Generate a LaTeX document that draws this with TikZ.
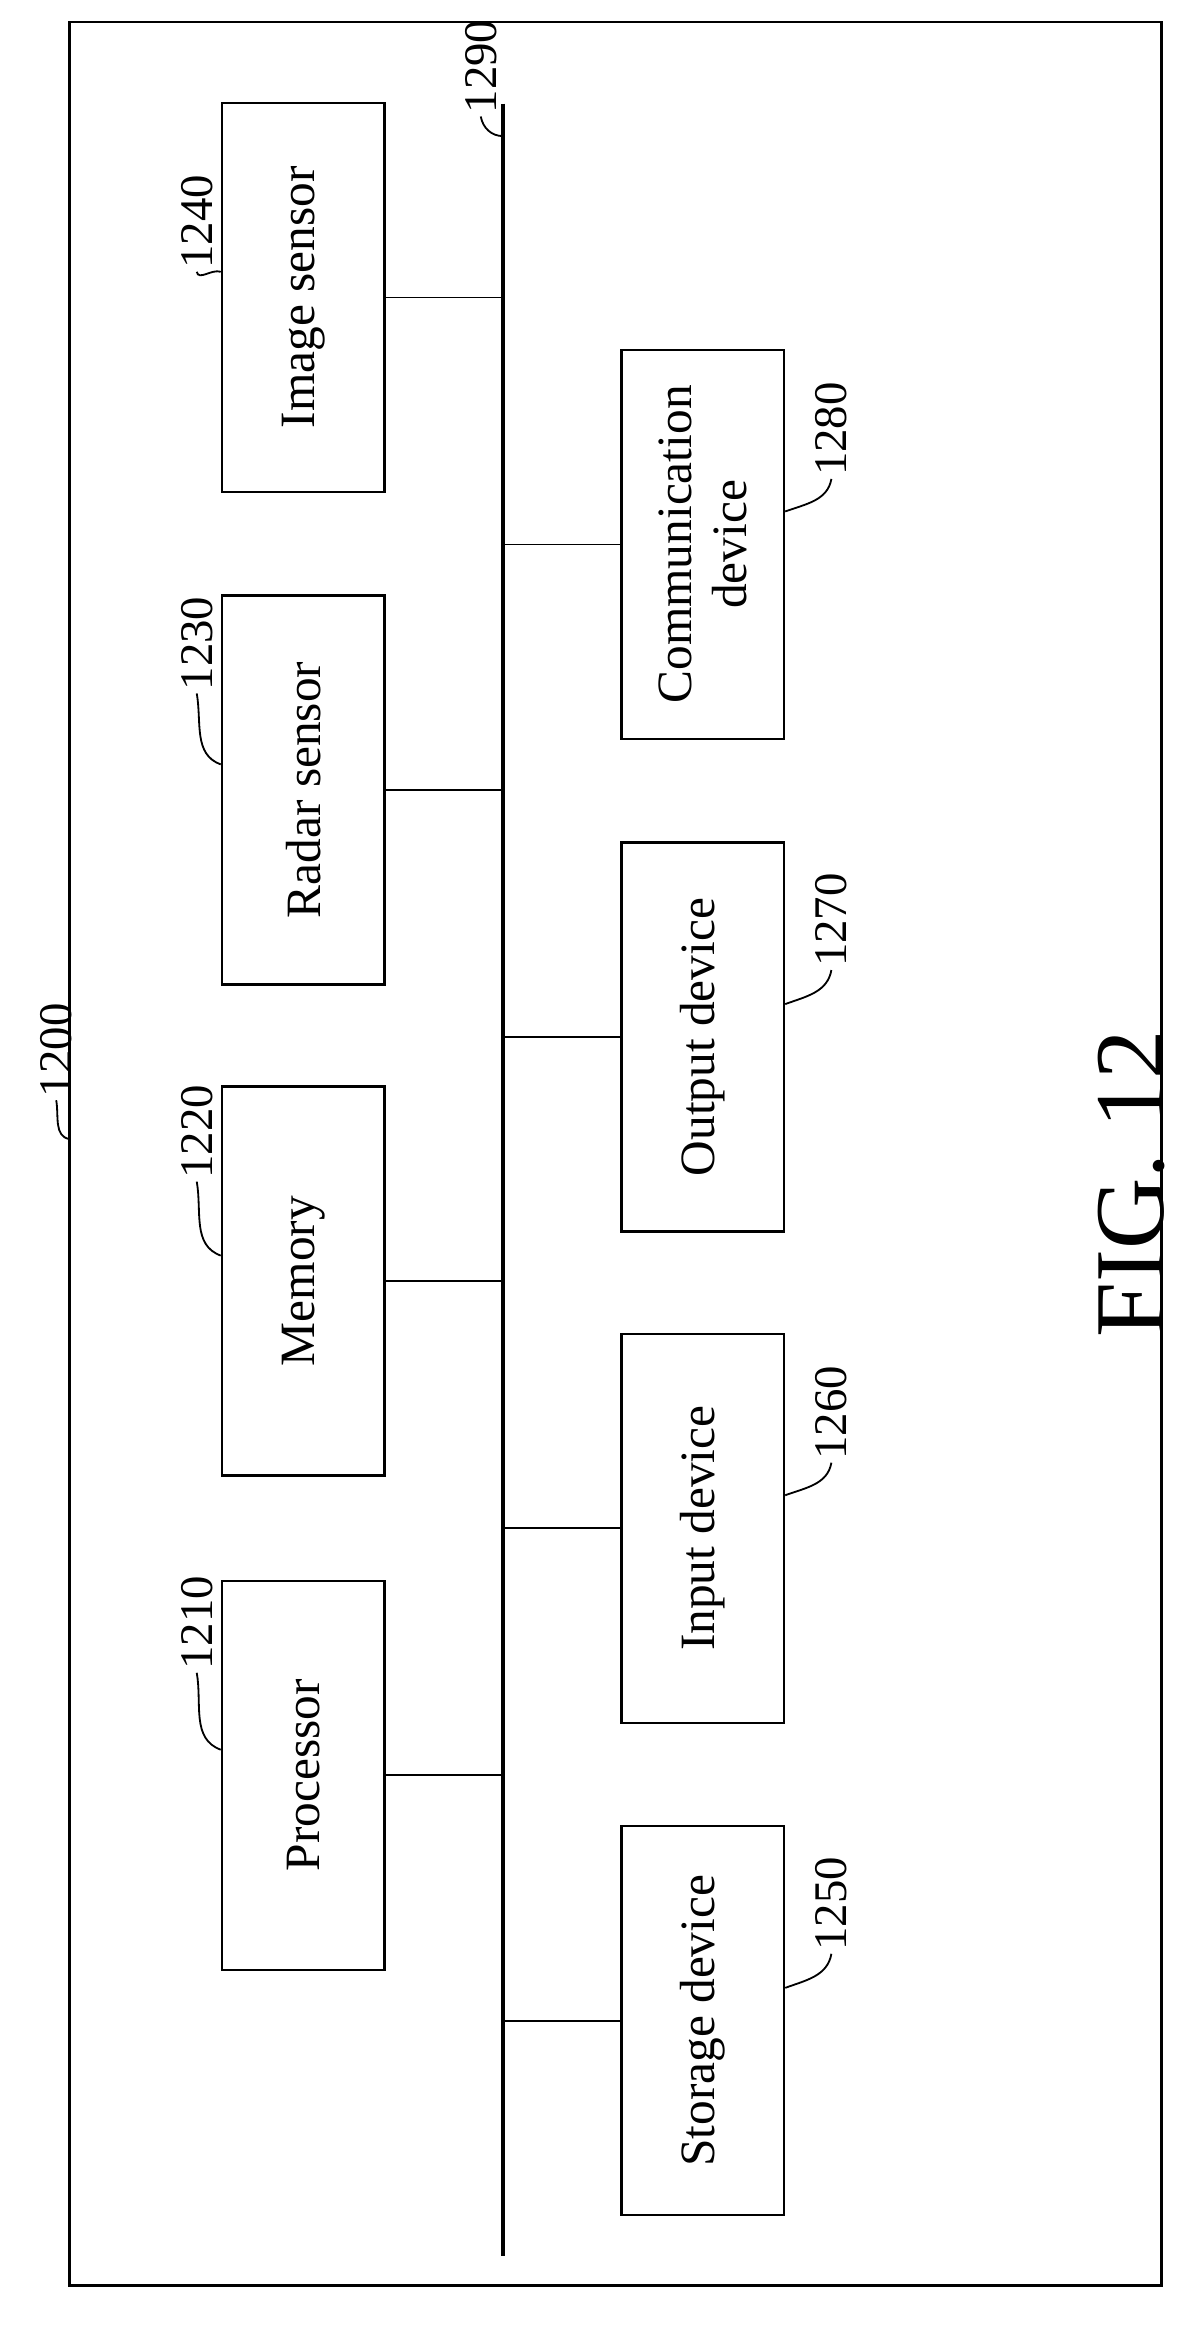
\documentclass[tikz,border=0pt]{standalone}
\usepackage{fontspec}
\setmainfont{Liberation Serif}
\usetikzlibrary{positioning, calc}
\tikzset{
    unit/.style={
        rectangle,
        draw=black,
        line width=0.9pt,
        rotate=90,
        minimum width=5.26cm,
        minimum height=2.2cm,
        align=center,
        font=\fontsize{19}{21}\selectfont
    },
    tag/.style={
        rotate=90,
        inner sep=1pt,
        font=\fontsize{18}{20}\selectfont
    },
    link/.style={
        draw=black,
        line width=0.6pt
    },
    leader/.style={
        draw=black,
        line width=0.7pt
    }
}
\begin{document}
\begin{tikzpicture}[x=0.02cm, y=-0.02cm]
\useasboundingbox (0,0) rectangle (800,1573);
% outer frame and bus
\draw[line width=1pt] (47,15) rectangle (785,1545);
\coordinate (bustop) at (340,70);
\coordinate (busbot) at (340,1525);
\draw[line width=1.8pt] (bustop) -- (busbot);

% left column
\node[unit] (image) at (205,201) {Image sensor};
\node[unit] (radar) at (205,534) {Radar sensor};
\node[unit] (memory) at (205,866) {Memory};
\node[unit] (proc) at (205,1200) {Processor};
% right column
\node[unit] (comm) at (475,368) {Communication\\device};
\node[unit] (output) at (475,701) {Output device};
\node[unit] (input) at (475,1033) {Input device};
\node[unit] (storage) at (475,1366) {Storage device};

% connections to the bus
\foreach \n in {image, radar, memory, proc}
    \draw[link] (\n.south) -- (\n.south -| bustop);
\foreach \n in {comm, output, input, storage}
    \draw[link] (\n.north -| bustop) -- (\n.north);

% reference numerals, left
\node[tag] (t1240) at (133,150) {1240};
\node[tag] (t1230) at (133,435) {1230};
\node[tag] (t1220) at (133,765) {1220};
\node[tag] (t1210) at (133,1097) {1210};
\draw[leader] (t1240.west) to[out=-80, in=160] ($(image.north east)+(0,115)$);
\draw[leader] (t1230.west) to[out=-80, in=160] ($(radar.north east)+(0,115)$);
\draw[leader] (t1220.west) to[out=-80, in=160] ($(memory.north east)+(0,115)$);
\draw[leader] (t1210.west) to[out=-80, in=160] ($(proc.north east)+(0,115)$);

% reference numerals, right
\node[tag] (t1280) at (562,290) {1280};
\node[tag] (t1270) at (562,622) {1270};
\node[tag] (t1260) at (562,955) {1260};
\node[tag] (t1250) at (562,1287) {1250};
\draw[leader] (t1280.west) to[out=-100, in=20] ($(comm.south east)+(0,110)$);
\draw[leader] (t1270.west) to[out=-100, in=20] ($(output.south east)+(0,110)$);
\draw[leader] (t1260.west) to[out=-100, in=20] ($(input.south east)+(0,110)$);
\draw[leader] (t1250.west) to[out=-100, in=20] ($(storage.south east)+(0,110)$);

% frame and bus numerals
\node[tag] (t1290) at (325,45) {1290};
\draw[leader] (t1290.west) to[out=-80, in=180] ($(bustop)+(0,22)$);
\node[tag] (t1200) at (38,710) {1200};
\draw[leader] (t1200.west) to[out=-80, in=170] (47,770);

\node[rotate=90, font=\fontsize{38}{40}\selectfont] (fig) at (765,800) {FIG. 12};
\end{tikzpicture}
\end{document}
